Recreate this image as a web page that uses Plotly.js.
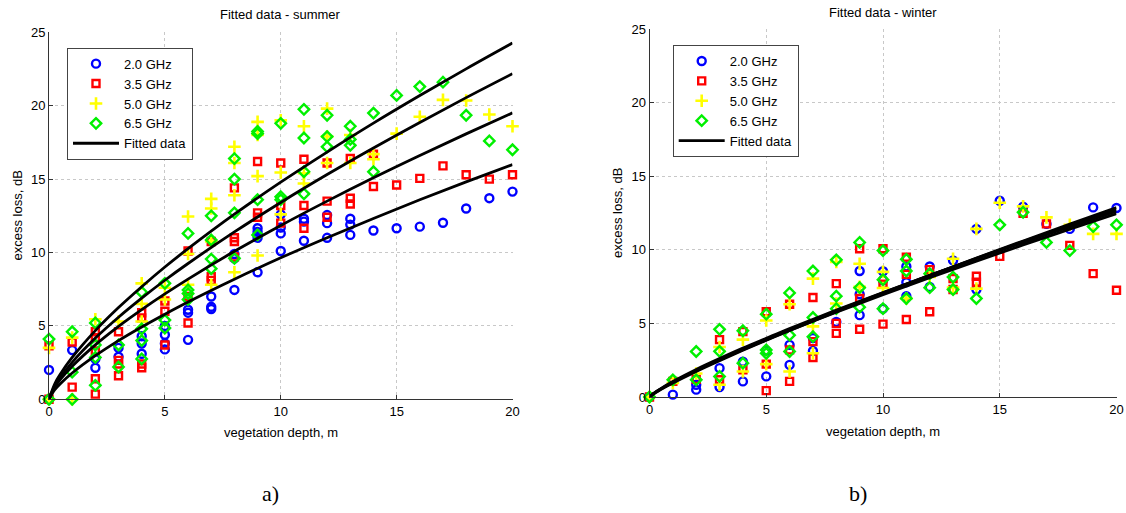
<!DOCTYPE html>
<html>
<head>
<meta charset="utf-8">
<script src="https://cdn.plot.ly/plotly-3.0.1.min.js"></script>
<style>html,body{margin:0;padding:0;background:#fff;}#chart{width:1126px;height:513px;}</style>
</head>
<body>
<div id="chart"></div>
<script>
// ---------- SUMMER measured data ----------
const sum20x = [0,0,1,2,2,3,3,4,4,4,5,5,5,5,6,6,6,7,7,7,8,8,8,9,9,9,9,10,10,10,10,11,11,11,12,12,12,13,13,13,14,15,16,17,18,19,20];
const sum20y = [2.0,0,3.35,2.75,2.15,3.5,2.9,4.3,3.8,3.1,5.0,4.4,3.8,3.4,6.1,5.9,4.05,7.0,6.3,6.15,9.9,9.6,7.45,11.65,11.4,11.0,8.65,12.6,11.7,11.3,10.1,12.3,12.1,10.8,12.55,12.0,11.0,12.3,11.9,11.2,11.5,11.65,11.76,12.03,13.0,13.7,14.15];
const sum35x = [0,0,1,1,2,2,2,2,2,3,3,3,3,4,4,4,4,5,5,5,6,6,6,7,7,7,8,8,8,8,9,9,9,10,10,10,11,11,11,12,12,12,13,13,13,14,14,15,16,17,18,19,20];
const sum35y = [3.65,0,3.9,0.83,4.6,4.2,3.3,1.4,0.35,4.6,2.65,2.4,1.6,5.9,5.55,2.4,2.15,6.7,6.0,3.7,10.1,7.0,5.2,10.75,8.35,8.1,14.4,11.0,10.75,9.7,16.2,12.7,12.4,16.1,13.2,12.0,16.35,13.2,11.65,16.1,13.5,12.4,16.4,13.7,13.3,16.7,14.5,14.6,15.05,15.9,15.3,15.0,15.3];
const sum50x = [0,0,1,1,2,3,4,4,4,5,5,6,6,6,7,7,7,7,8,8,8,8,9,9,9,9,10,10,10,11,11,11,12,12,12,13,13,14,14,15,16,17,18,19,20];
const sum50y = [3.5,0,4.2,0,5.45,5.3,7.9,6.5,5.3,7.6,6.8,12.45,9.9,7.8,13.65,13.0,10.75,7.8,17.2,16.1,13.9,8.65,18.9,18.0,15.2,9.8,19.0,15.45,12.6,18.6,15.4,14.7,19.8,17.9,16.1,18.0,16.1,16.7,16.35,18.1,19.25,20.4,20.35,19.4,18.6];
const sum65x = [0,0,1,1,1,2,2,2,2,3,3,4,4,4,4,5,5,5,6,6,6,6,7,7,7,7,8,8,8,8,9,9,9,9,10,10,10,11,11,11,11,12,12,12,13,13,13,14,14,15,16,17,18,19,20];
const sum65y = [4.1,0,4.6,1.85,0,5.2,3.7,2.85,0.95,3.7,2.2,7.3,4.8,4.0,2.75,7.9,5.4,4.85,11.3,7.45,7.2,6.8,12.5,10.85,9.55,8.9,16.4,15.0,12.7,9.6,18.25,18.1,13.6,11.2,18.8,13.8,13.6,19.75,17.8,15.5,14.0,19.35,17.9,17.2,18.6,17.7,17.3,19.5,15.5,20.7,21.3,21.6,19.35,17.6,17.0];

// ---------- WINTER measured data ----------
const win20x = [0,1,2,2,3,3,4,4,5,5,6,6,7,7,8,9,9,9,10,10,10,11,11,11,12,12,13,14,14,15,16,17,18,19,20];
const win20y = [0,0.16,0.83,0.5,1.96,0.68,2.4,1.06,3.15,1.4,3.54,2.18,4.0,3.13,5.1,8.56,6.98,5.56,8.54,7.93,6.0,8.87,7.8,6.85,8.87,7.48,9.28,11.42,7.3,13.33,12.93,11.76,11.42,12.88,12.84];
const win35x = [0,1,2,3,3,4,4,5,5,5,6,6,6,7,7,7,8,8,8,9,9,9,10,10,10,11,11,11,12,12,13,13,14,14,15,16,17,18,19,20];
const win35y = [0,1.06,1.2,3.9,1.17,4.44,1.85,5.8,2.23,0.43,6.3,3.2,1.06,6.76,3.76,2.68,7.7,5.0,4.32,10.07,6.69,4.6,10.07,7.66,4.95,9.5,8.33,5.27,8.65,5.79,8.04,7.3,8.2,7.8,9.55,12.48,11.76,10.3,8.38,7.25];
const win50x = [0,1,2,3,3,4,4,5,5,6,6,7,7,7,8,8,9,9,10,10,11,12,13,13,14,14,15,16,17,18,19,20];
const win50y = [0,0.95,1.6,3.4,0.83,3.9,1.73,5.2,2.23,6.3,1.73,8.04,4.8,2.97,9.17,6.35,9.05,7.48,8.5,7.4,6.69,8.15,9.39,7.43,11.42,7.36,13.2,12.95,12.2,11.7,11.08,11.08];
const win65x = [0,1,2,2,3,3,3,4,4,5,5,5,6,6,6,7,7,7,8,8,8,9,9,9,10,10,10,11,11,11,12,12,13,13,14,15,16,17,18,19,20];
const win65y = [0,1.17,3.09,1.17,4.6,3.1,1.4,4.5,2.3,5.63,3.2,2.97,7.07,4.2,3.09,8.56,5.4,4.1,9.32,6.85,6.0,10.5,7.43,6.1,9.95,7.97,6.0,9.35,8.56,6.69,8.38,7.43,8.15,7.3,6.69,11.7,12.55,10.5,9.95,11.58,11.7];

// ---------- fitted curves ----------
const fitX = [0,0.25,0.5,1,2,3,4,5,6,8,10,12,14,16,18,20];
const sumFitA = [0,1.06,1.74,2.85,4.68,6.25,7.67,9.01,10.26,12.61,14.79,16.84,18.81,20.69,22.51,24.27];
const sumFitB = [0,0.92,1.52,2.52,4.17,5.59,6.89,8.11,9.25,11.40,13.41,15.31,17.12,18.86,20.55,22.18];
const sumFitC = [0,0.83,1.37,2.25,3.71,4.97,6.11,7.18,8.19,10.08,11.84,13.50,15.09,16.61,18.08,19.51];
const sumFitD = [0,0.65,1.08,1.79,2.97,4.00,4.93,5.80,6.63,8.18,9.64,11.01,12.32,13.59,14.81,15.99];
const winFitA = [0,0.28,0.52,0.95,1.74,2.47,3.17,3.85,4.52,5.80,7.04,8.25,9.44,10.60,11.74,12.87];
const winFitB = [0,0.31,0.55,1.00,1.80,2.54,3.25,3.93,4.59,5.86,7.08,8.27,9.42,10.56,11.67,12.76];
const winFitC = [0,0.33,0.59,1.05,1.87,2.61,3.32,3.99,4.65,5.90,7.10,8.26,9.39,10.49,11.56,12.62];
const winFitD = [0,0.31,0.56,1.00,1.79,2.52,3.21,3.88,4.52,5.76,6.95,8.10,9.23,10.33,11.40,12.46];

const seriesNames = ['2.0 GHz','3.5 GHz','5.0 GHz','6.5 GHz'];
const fitName = 'Fitted data';
const xTicks = [0,5,10,15,20];
const yTicks = [0,5,10,15,20,25];

// ---------- styling ----------
const W = 1126, H = 513;
const px = v => v / W;
const py = v => 1 - v / H;
const styles = [
  {symbol:'circle-open', color:'#0000ff', size:8, lw:2.4},
  {symbol:'square-open', color:'#ff0000', size:7, lw:2.4},
  {symbol:'cross-thin', color:'#ffff00', size:9, lw:2.6},
  {symbol:'diamond-open', color:'#00f000', size:8, lw:2.4}
];

function pts(x, y, i, xa, ya, leg, show) {
  const s = styles[i];
  return {
    type:'scatter', mode:'markers', x:x, y:y, xaxis:xa, yaxis:ya,
    name:seriesNames[i], legend:leg, showlegend:show, cliponaxis:false,
    marker:{symbol:s.symbol, size:s.size, color:s.color, line:{color:s.color, width:s.lw}},
    hoverinfo:'x+y'
  };
}
function fit(y, xa, ya, leg, show) {
  return {
    type:'scatter', mode:'lines', x:fitX, y:y, xaxis:xa, yaxis:ya,
    name:fitName, legend:leg, showlegend:show, cliponaxis:true,
    line:{color:'#000', width:2.8, shape:'spline', smoothing:1}
  };
}

const traces = [
  pts(sum20x,sum20y,0,'x','y','legend',true),
  pts(sum35x,sum35y,1,'x','y','legend',true),
  pts(sum50x,sum50y,2,'x','y','legend',true),
  pts(sum65x,sum65y,3,'x','y','legend',true),
  fit(sumFitA,'x','y','legend',true),
  fit(sumFitB,'x','y','legend',false),
  fit(sumFitC,'x','y','legend',false),
  fit(sumFitD,'x','y','legend',false),
  pts(win20x,win20y,0,'x2','y2','legend2',true),
  pts(win35x,win35y,1,'x2','y2','legend2',true),
  pts(win50x,win50y,2,'x2','y2','legend2',true),
  pts(win65x,win65y,3,'x2','y2','legend2',true),
  fit(winFitA,'x2','y2','legend2',true),
  fit(winFitB,'x2','y2','legend2',false),
  fit(winFitC,'x2','y2','legend2',false),
  fit(winFitD,'x2','y2','legend2',false)
];

const font = {family:'Liberation Sans, Arial, sans-serif', size:13, color:'#000'};
function xax(d) {
  return {domain:d, range:[0,20], tickvals:xTicks, ticktext:xTicks.map(String),
    showgrid:true, gridcolor:'#c8c8c8', griddash:'dot', gridwidth:1,
    showline:true, linecolor:'#333', linewidth:1, ticks:'inside', ticklen:4, tickcolor:'#333',
    zeroline:false, tickfont:font, fixedrange:true};
}
function yax(d, anchor) {
  return {domain:d, range:[0,25], tickvals:yTicks, ticktext:yTicks.map(String), anchor:anchor,
    showgrid:true, gridcolor:'#c8c8c8', griddash:'dot', gridwidth:1,
    showline:true, linecolor:'#333', linewidth:1, ticks:'inside', ticklen:4, tickcolor:'#333',
    zeroline:false, tickfont:font, fixedrange:true};
}
function leg(x, y) {
  return {x:px(x), y:py(y), xanchor:'left', yanchor:'top', xref:'paper', yref:'paper',
    bgcolor:'#fff', bordercolor:'#444', borderwidth:1, font:{family:font.family, size:13, color:'#000'},
    itemwidth:46, tracegroupgap:0};
}
function ann(text, x, y, extra) {
  return Object.assign({text:text, x:px(x), y:py(y), xref:'paper', yref:'paper', showarrow:false,
    xanchor:'center', yanchor:'middle', font:font}, extra || {});
}

const layout = {
  width:W, height:H, margin:{l:0,r:0,t:0,b:0}, paper_bgcolor:'#fff', plot_bgcolor:'#fff',
  showlegend:true,
  xaxis: Object.assign(xax([px(49), px(512.5)]), {anchor:'y'}),
  yaxis: yax([py(399.3), py(32.3)], 'x'),
  xaxis2: Object.assign(xax([px(649.5), px(1116.5)]), {anchor:'y2'}),
  yaxis2: yax([py(397), py(29)], 'x2'),
  legend: leg(67, 47.7),
  legend2: leg(672.7, 45),
  annotations: [
    ann('Fitted data - summer', 280.5, 14),
    ann('Fitted data - winter', 883, 12),
    ann('vegetation depth, m', 280.5, 432),
    ann('vegetation depth, m', 883, 431),
    ann('excess loss, dB', 17, 215.5, {textangle:-90}),
    ann('excess loss, dB', 617, 213, {textangle:-90}),
    ann('a)', 270, 493, {font:{family:'Liberation Serif, Times New Roman, serif', size:22, color:'#000'}}),
    ann('b)', 858, 493, {font:{family:'Liberation Serif, Times New Roman, serif', size:22, color:'#000'}})
  ]
};

Plotly.newPlot('chart', traces, layout, {staticPlot:true, displayModeBar:false});
</script>
</body>
</html>
